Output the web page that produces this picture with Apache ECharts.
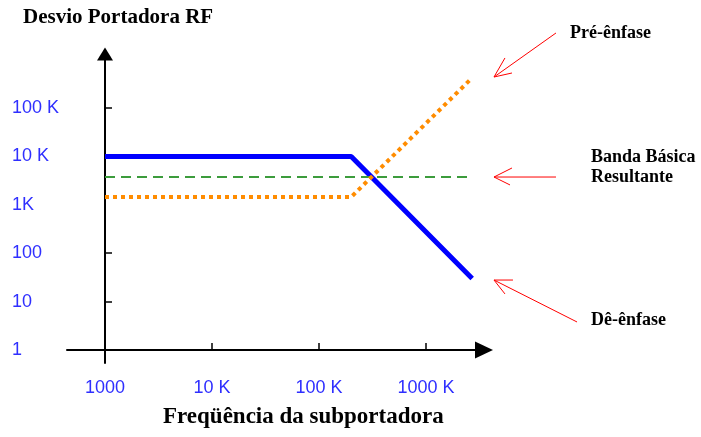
<!DOCTYPE html>
<html><head><meta charset="utf-8">
<script src="https://cdn.jsdelivr.net/npm/echarts@6/dist/echarts.min.js"></script>
<style>html,body{margin:0;padding:0;background:#fff}#c{width:701px;height:437px}</style>
</head><body><div id="c"></div>
<script>
// ---- tick values and labels ----
const yTickValues = [1, 10, 100, 1000, 10000, 100000];
const yTickLabels = ['1', '10', '100', '1K', '10 K', '100 K'];
const yTickMarks = [10, 100, 10000, 100000];
const xTickValues = [1000, 10000, 100000, 1000000];
const xTickLabels = ['1000', '10 K', '100 K', '1000 K'];
const xTickMarks = [10000, 100000, 1000000];

// ---- series (frequency in Hz, deviation) ----
const deenfaseFreq = [1000, 200000, 2700000];
const deenfaseDev = [10000, 10000, 30];
const preenfaseFreq = [1000, 200000, 2700000];
const preenfaseDev = [1450, 1450, 420000];
const bandaFreq = [1000, 2500000];
const bandaDev = [3750, 3750];

// ---- annotations (in data units) ----
const annotationTexts = ['Pré-ênfase', 'Banda Básica\nResultante', 'Dê-ênfase'];
const annotationTextAt = [[2.22e7, 3.55e6], [3.48e7, 6040], [3.48e7, 4.17]];
const arrowStart = [[1.64e7, 3.55e6], [1.64e7, 3750], [2.58e7, 3.79]];
const arrowTip = [[4.32e6, 4.37e5], [4.32e6, 3750], [4.32e6, 27.9]];
const arrowHeadA = [[5.47e6, 1.08e6], [6.36e6, 5760], [6.5e6, 27.9]];
const arrowHeadB = [[6.36e6, 5.29e5], [6.1e6, 2570], [5.47e6, 14.4]];

// ---- layout ----
const GRID = {left: 67, top: 54, width: 417, height: 309};
const X_ORIGIN_PX = 105, Y_ORIGIN_PX = 350; // where 1000 Hz and deviation 1 sit
const X_DECADE_PX = 107, Y_DECADE_PX = 48.4;
const xMin = 1000 * Math.pow(10, (GRID.left - X_ORIGIN_PX) / X_DECADE_PX);
const xMax = 1000 * Math.pow(10, (GRID.left + GRID.width - X_ORIGIN_PX) / X_DECADE_PX);
const yMin = Math.pow(10, (Y_ORIGIN_PX - (GRID.top + GRID.height)) / Y_DECADE_PX);
const yMax = Math.pow(10, (Y_ORIGIN_PX - GRID.top) / Y_DECADE_PX);

function zip(a, b) { return a.map((v, i) => [v, b[i]]); }
function lookup(vals, labels) {
  return function (v) {
    for (let i = 0; i < vals.length; i++) {
      if (Math.abs(Math.log10(v) - Math.log10(vals[i])) < 1e-6) return labels[i];
    }
    return '';
  };
}

const tickFont = {color: '#2f2fff', fontFamily: 'Liberation Sans', fontSize: 18};
const serifBold = {fontFamily: 'Liberation Serif', fontWeight: 'bold', color: '#000000',
                   opacity: 1, textBorderWidth: 0, textShadowBlur: 0};

const chart = echarts.init(document.getElementById('c'), null, {renderer: 'canvas'});
chart.setOption({
  animation: false,
  backgroundColor: '#fff',
  title: [
    {text: 'Desvio Portadora RF', left: 23, top: 7, padding: 0,
     textStyle: Object.assign({fontSize: 21}, serifBold)},
    {text: 'Freqüência da subportadora', left: 163, top: 406, padding: 0,
     textStyle: Object.assign({fontSize: 23}, serifBold)}
  ],
  grid: {left: GRID.left, top: GRID.top, width: GRID.width, height: GRID.height, containLabel: false},
  xAxis: {
    type: 'log', logBase: 10, min: xMin, max: xMax,
    offset: Y_ORIGIN_PX - (GRID.top + GRID.height),
    axisLine: {show: true, symbol: ['none', 'triangle'], symbolSize: [17, 18],
               lineStyle: {color: '#000', width: 2}},
    axisTick: {show: true, inside: true, length: 7, customValues: xTickMarks,
               lineStyle: {color: '#000', width: 1.5}},
    axisLabel: Object.assign({customValues: xTickValues, margin: 29,
               formatter: lookup(xTickValues, xTickLabels)}, tickFont),
    splitLine: {show: false}, minorTick: {show: false}, minorSplitLine: {show: false}
  },
  yAxis: {
    type: 'log', logBase: 10, min: yMin, max: yMax,
    offset: GRID.left - X_ORIGIN_PX,
    axisLine: {show: true, symbol: ['none', 'triangle'], symbolSize: [16, 13],
               lineStyle: {color: '#000', width: 2}},
    axisTick: {show: true, inside: true, length: 7, customValues: yTickMarks,
               lineStyle: {color: '#000', width: 1.5}},
    axisLabel: Object.assign({customValues: yTickValues, margin: X_ORIGIN_PX - 12, align: 'left',
               formatter: lookup(yTickValues, yTickLabels)}, tickFont),
    splitLine: {show: false}, minorTick: {show: false}, minorSplitLine: {show: false}
  },
  series: [
    {name: 'Dê-ênfase', type: 'line', data: zip(deenfaseFreq, deenfaseDev),
     symbol: 'none', clip: false, lineStyle: {color: '#0000ff', width: 5}},
    {name: 'Banda Básica Resultante', type: 'line', data: zip(bandaFreq, bandaDev),
     symbol: 'none', clip: false, lineStyle: {color: '#3c9c3c', width: 2, type: [10, 6]}},
    {name: 'Pré-ênfase', type: 'line', data: zip(preenfaseFreq, preenfaseDev),
     symbol: 'none', clip: false, lineStyle: {color: '#ff8c00', width: 4, type: [4, 4], cap: 'butt'}},
    {type: 'lines', coordinateSystem: 'cartesian2d', polyline: true, clip: false, silent: true,
     lineStyle: {color: '#ff0000', width: 1, opacity: 1},
     data: arrowStart.map((s, i) => ({coords: [s, arrowTip[i], arrowHeadA[i]]}))
       .concat(arrowTip.map((t, i) => ({coords: [t, arrowHeadB[i]]})))},
    {type: 'scatter', clip: false, silent: true, symbolSize: 0,
     itemStyle: {opacity: 1},
     data: annotationTextAt.map((p, i) => ({value: p, label: {formatter: annotationTexts[i]}})),
     label: Object.assign({show: true, position: 'right', distance: 0, fontSize: 18, lineHeight: 20, align: 'left'}, serifBold)}
  ]
});
</script>
</body></html>
